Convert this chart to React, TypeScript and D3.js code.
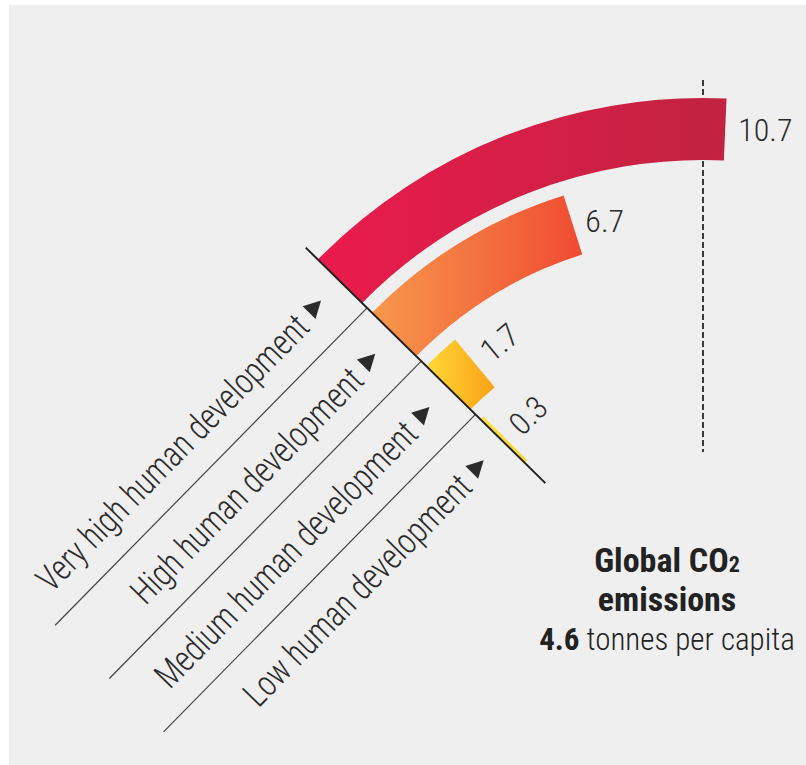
import React from 'react';
import * as d3 from 'd3';

// ---- data ----
const categories = [
  'Very high human development',
  'High human development',
  'Medium human development',
  'Low human development',
];
const values = [10.7, 6.7, 1.7, 0.3];
const valueLabels = ['10.7', '6.7', '1.7', '0.3'];
const gradientStops = [
  ['#ea1b4d', '#c12340'],
  ['#f7984c', '#f04b32'],
  ['#fed937', '#fca116'],
  ['#f7e445', '#f3d52f'],
];
const globalValue = '4.6';

// ---- layout ----
const W = 806;
const H = 765;
const cx = 703;
const cy = 638;
const baseDeg = -45.5;
const barW = 62;
const FONT = "'Roboto Condensed', 'Liberation Sans Narrow', 'Arial Narrow', 'DejaVu Sans Condensed', sans-serif";
const TEXT = '#2b2b2b';
const SX = 0.88;

const angleScale = d3.scalePow().exponent(1.15).domain([0, 10.7]).range([0, 48]);
const radiusScale = d3.scaleLinear().domain([0, values.length - 1]).range([540, 312]);

const rad = (d: number) => (d * Math.PI) / 180;
const pt = (r: number, deg: number): [number, number] => [
  cx + r * Math.sin(rad(deg)),
  cy - r * Math.cos(rad(deg)),
];

export default function App() {
  const arcGen = d3.arc<any>();
  const outers = values.map((_, i) => radiusScale(i));
  const lastInner = outers[outers.length - 1] - barW;
  const baseStart = pt(outers[0] + 17, baseDeg);
  const baseEnd = pt(lastInner - 29, baseDeg);
  const u = [Math.sin(rad(baseDeg)), -Math.cos(rad(baseDeg))];
  const perp = [u[1], -u[0]];

  return (
    <svg
      width={W}
      height={H}
      style={{ position: 'absolute', left: 0, top: 0, background: '#fff' }}
      fontFamily={FONT}
    >
      <defs>
        {gradientStops.map((s, i) => (
          <linearGradient key={i} id={`g${i}`} x1="0" x2="1" y1="0" y2="0">
            <stop offset="0" stopColor={s[0]} />
            <stop offset="1" stopColor={s[1]} />
          </linearGradient>
        ))}
      </defs>
      <rect x={9} y={5} width={W - 9} height={H - 5} fill="#efefef" />

      {/* dashed reference line */}
      <line
        x1={pt(outers[0] + 18, 0)[0]}
        y1={pt(outers[0] + 18, 0)[1]}
        x2={pt(186, 0)[0]}
        y2={pt(186, 0)[1]}
        stroke="#000"
        strokeWidth={1.5}
        strokeDasharray="6,3"
      />

      {/* bars */}
      {values.map((v, i) => {
        const ro = outers[i];
        const d = arcGen({
          innerRadius: ro - barW,
          outerRadius: ro,
          startAngle: rad(baseDeg),
          endAngle: rad(baseDeg + angleScale(v)),
        }) as string;
        return <path key={i} d={d} transform={`translate(${cx},${cy})`} fill={`url(#g${i})`} />;
      })}

      {/* leader lines */}
      {values.slice(1).map((_, k) => {
        const i = k + 1;
        const r = (outers[i - 1] - barW + outers[i]) / 2;
        const s = pt(r, baseDeg);
        const L = 445;
        return (
          <line
            key={i}
            x1={s[0]}
            y1={s[1]}
            x2={s[0] + perp[0] * L}
            y2={s[1] + perp[1] * L}
            stroke="#444"
            strokeWidth={1.2}
          />
        );
      })}

      {/* baseline */}
      <line x1={baseStart[0]} y1={baseStart[1]} x2={baseEnd[0]} y2={baseEnd[1]} stroke="#222" strokeWidth={2} />

      {/* category labels */}
      {categories.map((c, i) => {
        const o = pt(outers[i] - barW / 2, baseDeg);
        return (
          <g key={c} transform={`translate(${o[0]},${o[1]}) rotate(${baseDeg})`}>
            <text
              x={-54 / SX}
              y={1}
              transform={`scale(${SX},1)`}
              textAnchor="end"
              dominantBaseline="central"
              fontSize={36}
              fontWeight={300}
              fill={TEXT}
            >
              {c}
            </text>
            <path d="M-44,-9L-44,9L-27,0Z" fill="#2b2b2b" />
          </g>
        );
      })}

      {/* value labels */}
      {values.map((v, i) => {
        const span = angleScale(v);
        const e = baseDeg + span;
        const p = pt(outers[i] - barW / 2, e);
        const t = [Math.cos(rad(e)), Math.sin(rad(e))];
        const x = p[0] + 13 * t[0];
        const y = p[1] + 13 * t[1];
        const rot = span < 10 ? e : 0;
        return (
          <text
            key={i}
            x={x}
            y={y}
            transform={rot ? `rotate(${rot},${x},${y})` : undefined}
            dominantBaseline="central"
            fontSize={32}
            fontWeight={300}
            fill={TEXT}
          >
            {valueLabels[i]}
          </text>
        );
      })}

      {/* global note */}
      <g textAnchor="middle" fill="#222">
        <text x={667} y={572} fontSize={34} fontWeight="bold">
          Global CO<tspan fontSize={22}>2</tspan>
        </text>
        <text x={667} y={611} fontSize={34} fontWeight="bold">
          emissions
        </text>
        <text x={667} y={650} fontSize={31} fontWeight={300}>
          <tspan fontWeight="bold">{globalValue}</tspan> tonnes per capita
        </text>
      </g>
    </svg>
  );
}
